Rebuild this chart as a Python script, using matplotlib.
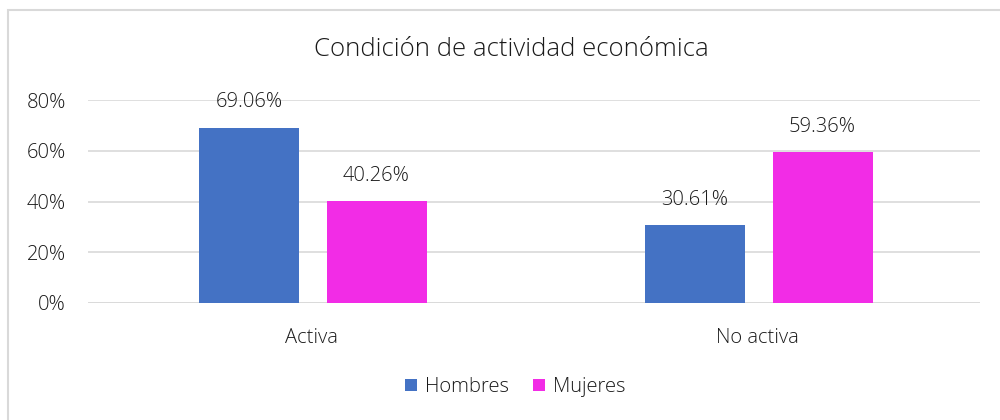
import matplotlib.pyplot as plt
import numpy as np
from matplotlib.patches import Rectangle

categories = ['Activa', 'No activa']
hombres = [69.06, 30.61]
mujeres = [40.26, 59.36]
yticks = [0, 20, 40, 60, 80]

plt.rcParams['font.family'] = ['Open Sans', 'DejaVu Sans']
plt.rcParams['font.weight'] = 'light'
txt = '#1a1a1a'

fig = plt.figure(figsize=(10, 4.2), dpi=100)
ax = fig.add_axes([0.088, 1 - 303 / 420, 0.892, 203 / 420])

x = np.arange(len(categories))
w = 0.224
off = 0.143
b1 = ax.bar(x - off + 0.004, hombres, w, color='#4472C4', label='Hombres', zorder=3)
b2 = ax.bar(x + off + 0.004, mujeres, w, color='#F22CE6', label='Mujeres', zorder=3)

for bars in (b1, b2):
    for r in bars:
        ax.annotate(f'{r.get_height():.2f}%', (r.get_x() + r.get_width() / 2, r.get_height()),
                    xytext=(0, 11), textcoords='offset points', ha='center', va='bottom',
                    fontsize=14.5, color=txt)

ax.set_xlim(-0.5, 1.5)
ax.set_ylim(0, 80)
ax.set_yticks(yticks)
ax.set_yticklabels([f'{v}%' for v in yticks])
ax.yaxis.grid(True, color='#D9D9D9', linewidth=1.2, zorder=0)
ax.set_xticks(x)
ax.set_xticklabels(categories)
for s in ax.spines.values():
    s.set_visible(False)
ax.tick_params(axis='both', length=0, labelsize=14.5, labelcolor=txt)
ax.tick_params(axis='x', pad=18)
ax.tick_params(axis='y', pad=16)
ax.axhline(0, color='#D9D9D9', linewidth=1.2, zorder=1)

fig.text(0.511, 1 - 49 / 420, 'Condición de actividad económica', ha='center', va='center',
         fontsize=18.5, color=txt)

fig.legend(handles=[b1, b2], loc='center', bbox_to_anchor=(0.515, 1 - 387 / 420), ncol=2,
           frameon=False, fontsize=14.5, handlelength=0.6, handleheight=0.6,
           handletextpad=0.4, columnspacing=1.2, labelcolor=txt)

fig.patches.append(Rectangle((8 / 1000, -0.1), 1.2, 1 - 10 / 420 + 0.1, transform=fig.transFigure,
                             fill=False, edgecolor='#D9D9D9', linewidth=1.5))

fig.savefig('out.png', dpi=100)
